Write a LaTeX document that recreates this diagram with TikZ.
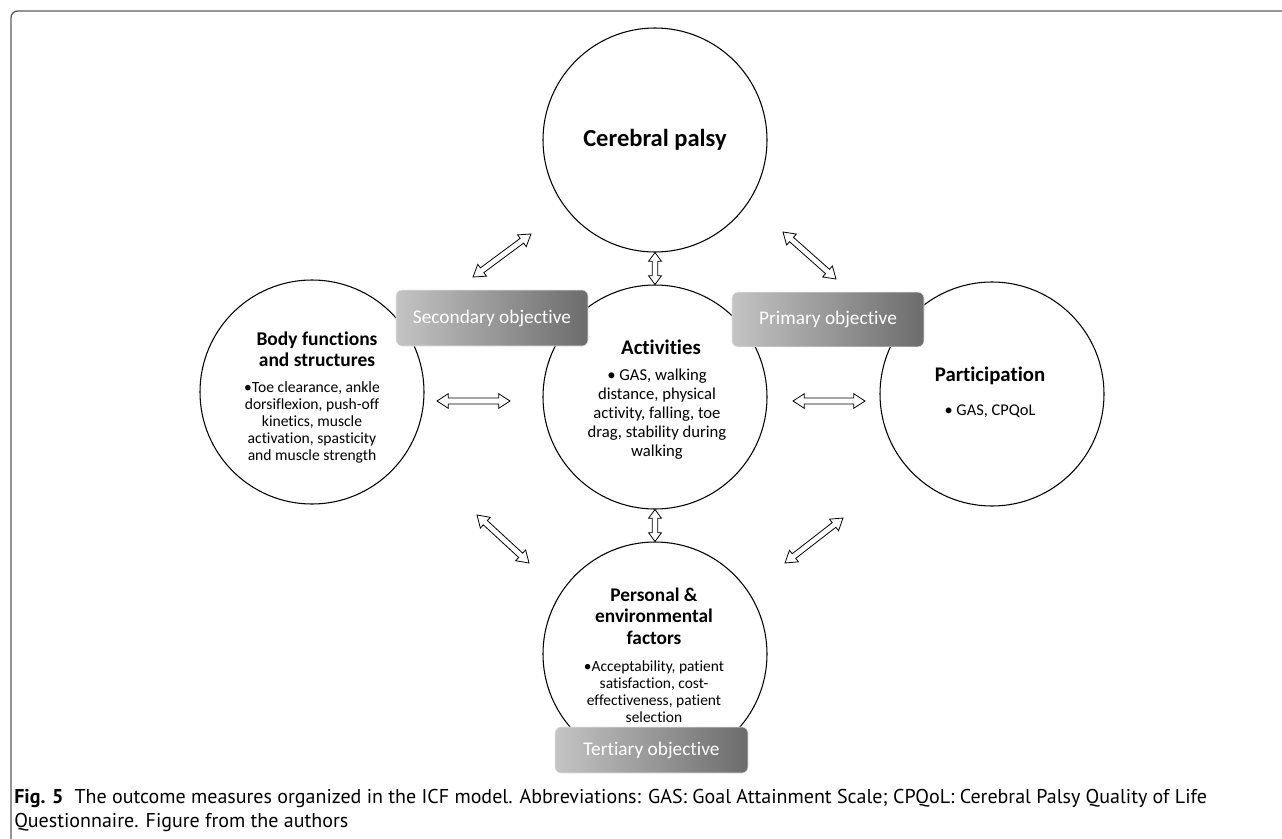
\documentclass[tikz,border=0pt]{standalone}
\usepackage{fontspec}
\setmainfont{Carlito}[Ligatures=NoCommon]
\newfontfamily\capfont{PT Sans}
\usetikzlibrary{calc,positioning}

\definecolor{boxlight}{RGB}{196,196,196}
\definecolor{boxdark}{RGB}{108,108,108}
\definecolor{framegray}{RGB}{90,90,90}

\tikzset{
  arrhw/.store in=\arrhw, arrsw/.store in=\arrsw, arrhl/.store in=\arrhl,
  arrhw=5.5pt, arrsw=2.2pt, arrhl=8.5pt,
  twoway/.style={draw=black, fill=white, line width=0.6pt, line join=miter,
    to path={let \p1=($(\tikztostart)!\arrhl!(\tikztotarget)$),
                 \p2=($(\tikztotarget)!\arrhl!(\tikztostart)$) in
      (\tikztostart)
      -- ($(\p1)!\arrhw!90:(\tikztotarget)$) -- ($(\p1)!\arrsw!90:(\tikztotarget)$)
      -- ($(\p2)!\arrsw!-90:(\tikztostart)$) -- ($(\p2)!\arrhw!-90:(\tikztostart)$)
      -- (\tikztotarget)
      -- ($(\p2)!\arrhw!90:(\tikztostart)$) -- ($(\p2)!\arrsw!90:(\tikztostart)$)
      -- ($(\p1)!\arrsw!-90:(\tikztotarget)$) -- ($(\p1)!\arrhw!-90:(\tikztotarget)$)
      -- cycle}},
  icfcircle/.style={circle, draw=black, line width=0.8pt, minimum size=168pt, inner sep=0pt},
  titletext/.style={align=center, inner sep=0pt, font=\fontsize{14.6}{15.8}\selectfont\bfseries},
  bullettext/.style={align=center, inner sep=0pt, font=\fontsize{11.7}{12.75}\selectfont},
  objective/.style={rounded corners=4.5pt, left color=boxlight, right color=boxdark,
    draw=white!80!gray, line width=0.4pt, minimum width=144pt, text=white,
    font=\fontsize{14.5}{17}\selectfont},
}

\begin{document}
\begin{tikzpicture}[x=0.75pt, y=-0.75pt]
  \useasboundingbox (0,0) rectangle (1282,839);
  % 枠の描画
  \draw[framegray, line width=1pt, rounded corners=5pt] (1282,11) -- (11,11) -- (11,839);
  % 中心の定義
  \coordinate (palsy_center) at (655, 140);
  \coordinate (body_center) at (312, 392);
  \coordinate (activities_center) at (655, 397);
  \coordinate (participation_center) at (992, 394);
  \coordinate (personal_center) at (655, 654);
  % 円の描画
  \node[icfcircle] (palsy) at (palsy_center) {};
  \node[icfcircle] (body) at (body_center) {};
  \node[icfcircle] (activities) at (activities_center) {};
  \node[icfcircle] (participation) at (participation_center) {};
  \node[icfcircle] (personal) at (personal_center) {};
  % 文字の描画
  \node[titletext, font=\fontsize{18.4}{22}\selectfont\bfseries] (palsy_title) at (palsy_center) {Cerebral palsy};
  \node[titletext] (body_title) at (317, 349.5) {Body functions\\and structures};
  \node[bullettext] (body_text) at (312, 422) {•Toe clearance, ankle\\dorsiflexion, push-off\\kinetics, muscle\\activation, spasticity\\and muscle strength};
  \node[titletext, font=\fontsize{15.6}{18}\selectfont\bfseries] (activities_title) at (661, 347) {Activities};
  \node[bullettext, font=\fontsize{12.5}{14.25}\selectfont] (activities_text) at (657, 414) {• GAS, walking\\distance, physical\\activity, falling, toe\\drag, stability during\\walking};
  \node[titletext, font=\fontsize{15.6}{18}\selectfont\bfseries] (participation_title) at (990, 376) {Participation};
  \node[bullettext, font=\fontsize{12.3}{14}\selectfont] (participation_text) at (990, 411) {• GAS, CPQoL};
  \node[titletext, font=\fontsize{14.5}{16}\selectfont\bfseries] (personal_title) at (654, 616) {Personal \&\\environmental\\factors};
  \node[bullettext, font=\fontsize{11.6}{12.75}\selectfont] (personal_text) at (654, 691.5) {•Acceptability, patient\\satisfaction, cost-\\effectiveness, patient\\selection};
  % 矢印の描画
  \coordinate (palsy_body_a) at (473, 277);
  \coordinate (palsy_body_b) at (531, 234);
  \coordinate (palsy_part_a) at (783, 232);
  \coordinate (palsy_part_b) at (836, 279);
  \coordinate (body_act_a) at (437, 401);
  \coordinate (body_act_b) at (510, 401);
  \coordinate (act_part_a) at (793, 401);
  \coordinate (act_part_b) at (865, 401);
  \coordinate (body_pers_a) at (477, 515);
  \coordinate (body_pers_b) at (529, 563);
  \coordinate (part_pers_a) at (843, 518);
  \coordinate (part_pers_b) at (785, 563);
  \draw[twoway] (palsy_body_a) to (palsy_body_b);
  \draw[twoway] (palsy_part_a) to (palsy_part_b);
  \draw[twoway, arrhl=6.5pt, arrhw=4.8pt, arrsw=2.1pt] (palsy.south) to (activities.north);
  \draw[twoway] (body_act_a) to (body_act_b);
  \draw[twoway] (act_part_a) to (act_part_b);
  \draw[twoway, arrhl=6.5pt, arrhw=4.8pt, arrsw=2.1pt] (activities.south) to (personal.north);
  \draw[twoway] (body_pers_a) to (body_pers_b);
  \draw[twoway] (part_pers_a) to (part_pers_b);
  % 目標の描画
  \node[objective, minimum height=42pt] (secondary) at (492, 318) {Secondary objective};
  \node[objective, minimum height=41pt] (primary) at (828, 319.5) {Primary objective};
  \node[objective, minimum height=34.5pt, minimum width=144.75pt] (tertiary) at (651.5, 750) {Tertiary objective};
  % 説明文
  \node[anchor=base west, inner sep=0pt, font=\capfont\fontsize{15}{18}\selectfont] (caption_first) at (14, 803)
    {\textbf{Fig. 5}\hspace{0.55em}The outcome measures organized in the ICF model. Abbreviations: GAS: Goal Attainment Scale; CPQoL: Cerebral Palsy Quality of Life};
  \node[anchor=base west, inner sep=0pt, font=\capfont\fontsize{15}{18}\selectfont] (caption_second) at (14, 827)
    {Questionnaire. Figure from the authors};
\end{tikzpicture}
\end{document}
